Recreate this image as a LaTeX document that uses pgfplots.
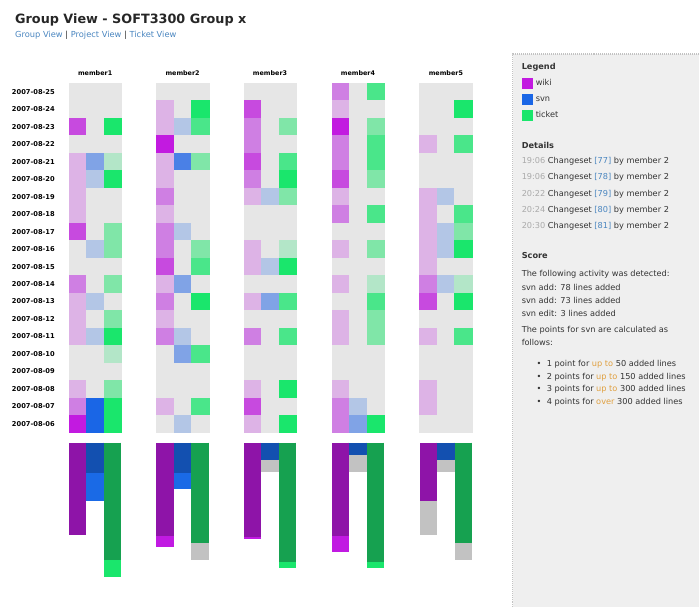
\documentclass[border=0pt]{standalone}
\usepackage{pgfplots}
\pgfplotsset{compat=1.18}
\usepackage{pgfplotstable}
\usepackage{fontspec}
\setmainfont{DejaVu Sans}

\definecolor{cg}{HTML}{E6E6E6}
\definecolor{cw1}{HTML}{DDB3E6}
\definecolor{cw2}{HTML}{CF7FE3}
\definecolor{cw3}{HTML}{C74ADF}
\definecolor{cw4}{HTML}{C21AE0}
\definecolor{cs1}{HTML}{B3C6E6}
\definecolor{cs2}{HTML}{80A3E6}
\definecolor{cs3}{HTML}{4A80E6}
\definecolor{cs4}{HTML}{1A66E6}
\definecolor{ct1}{HTML}{B3E6C8}
\definecolor{ct2}{HTML}{80E6A8}
\definecolor{ct3}{HTML}{4AE68A}
\definecolor{ct4}{HTML}{1AE66C}
\definecolor{bw}{HTML}{8E14A8}
\definecolor{bw2}{HTML}{C11AE2}
\definecolor{bs}{HTML}{1350B0}
\definecolor{bs2}{HTML}{1A6AE6}
\definecolor{bt}{HTML}{16A150}
\definecolor{bt2}{HTML}{1AE66C}
\definecolor{bgr}{HTML}{C2C2C2}
\definecolor{panel}{HTML}{EFEFEF}
\definecolor{txt}{HTML}{333333}
\definecolor{tgrey}{HTML}{AAAAAA}
\definecolor{lblue}{HTML}{4A86C0}
\definecolor{orng}{HTML}{E0A040}

% heatmap: day, wiki, svn, ticket
\pgfplotstableread{
d w s t
25 g g g
24 g g g
23 w3 g t4
22 g g g
21 w1 s2 t1
20 w1 s1 t4
19 w1 g g
18 w1 g g
17 w3 g t2
16 g s1 t2
15 g g g
14 w2 g t2
13 w1 s1 g
12 w1 g t2
11 w1 s1 t4
10 g g t1
9 g g g
8 w1 g t2
7 w2 s4 t4
6 w4 s4 t4
}\memA
\pgfplotstableread{
d w s t
25 g g g
24 w1 g t4
23 w1 s1 t3
22 w4 g g
21 w1 s3 t2
20 w1 g g
19 w2 g g
18 w1 g g
17 w2 s1 g
16 w2 g t2
15 w3 g t3
14 w1 s2 g
13 w2 g t4
12 w1 g g
11 w2 s1 g
10 g s2 t3
9 g g g
8 g g g
7 w1 g t3
6 g s1 g
}\memB
\pgfplotstableread{
d w s t
25 g g g
24 w3 g g
23 w2 g t2
22 w2 g g
21 w3 g t3
20 w2 g t4
19 w1 s1 t2
18 g g g
17 g g g
16 w1 g t1
15 w1 s1 t4
14 g g g
13 w1 s2 t3
12 g g g
11 w2 g t3
10 g g g
9 g g g
8 w1 g t4
7 w3 g g
6 w1 g t4
}\memC
\pgfplotstableread{
d w s t
25 w2 g t3
24 w1 g g
23 w4 g t2
22 w2 g t3
21 w2 g t3
20 w3 g t2
19 w1 g g
18 w2 g t3
17 g g g
16 w1 g t2
15 g g g
14 w1 g t1
13 g g t3
12 w1 g t2
11 w1 g t2
10 g g g
9 g g g
8 w1 g g
7 w2 s1 g
6 w2 s2 t4
}\memD
\pgfplotstableread{
d w s t
25 g g g
24 g g t4
23 g g g
22 w1 g t3
21 g g g
20 g g g
19 w1 s1 g
18 w1 g t3
17 w1 s1 t2
16 w1 s1 t4
15 w1 g g
14 w2 s1 t1
13 w3 g t4
12 g g g
11 w1 g t3
10 g g g
9 g g g
8 w1 g g
7 w1 g g
6 g g g
}\memE

\pgfplotsset{hm/.style={scatter, only marks, mark=square*, mark size=8.75pt,
  point meta=explicit symbolic, line width=0.3pt,
  scatter/classes={g={draw=cg,fill=cg},
   w1={draw=cw1,fill=cw1}, w2={draw=cw2,fill=cw2}, w3={draw=cw3,fill=cw3}, w4={draw=cw4,fill=cw4},
   s1={draw=cs1,fill=cs1}, s2={draw=cs2,fill=cs2}, s3={draw=cs3,fill=cs3}, s4={draw=cs4,fill=cs4},
   t1={draw=ct1,fill=ct1}, t2={draw=ct2,fill=ct2}, t3={draw=ct3,fill=ct3}, t4={draw=ct4,fill=ct4}}}}

\newcommand{\memcol}[3]{\addplot[hm] table[x expr=#1, y expr={91.75+17.5*(25-\thisrow{d})}, meta=#2]{#3};}
\newcommand{\datefont}{\bfseries\fontsize{6.7}{8}\selectfont}
\newcommand{\dlab}[2]{\node[anchor=base east, inner sep=0pt, font=\datefont, text=black] at (axis cs:55,{94.25+17.5*#2}) {2007-08-#1};}
\newcommand{\mlab}[2]{\node[anchor=base, inner sep=0pt, font=\bfseries\fontsize{6.4}{8}\selectfont, text=black] at (axis cs:#1,75.5) {#2};}
\newcommand{\ptxt}[2]{\node[anchor=base west, inner sep=0pt, font=\fontsize{8.2}{10}\selectfont, text=txt] at (axis cs:#1) {#2};}

\begin{document}
\begin{tikzpicture}
\begin{axis}[scale only axis, width=700pt, height=608pt,
  xmin=0, xmax=700, ymin=0, ymax=608, y dir=reverse,
  hide axis, clip=false, unbounded coords=jump]
\fill[white] (axis cs:0,0) rectangle (axis cs:700,608);
% right panel
\fill[panel] (axis cs:513,54) rectangle (axis cs:700,608);
\draw[color=bgr, line width=1.2pt, dash pattern=on 1pt off 1pt] (axis cs:700,54) -- (axis cs:513,54) -- (axis cs:513,608);

% heatmap
\memcol{77.75}{w}{\memA}
\memcol{95.25}{s}{\memA}
\memcol{112.75}{t}{\memA}
\memcol{165.25}{w}{\memB}
\memcol{182.75}{s}{\memB}
\memcol{200.25}{t}{\memB}
\memcol{252.75}{w}{\memC}
\memcol{270.25}{s}{\memC}
\memcol{287.75}{t}{\memC}
\memcol{340.75}{w}{\memD}
\memcol{358.25}{s}{\memD}
\memcol{375.75}{t}{\memD}
\memcol{428.75}{w}{\memE}
\memcol{446.25}{s}{\memE}
\memcol{463.75}{t}{\memE}

% totals bars (segments top to bottom)
\addplot[color=bw, line width=17.5pt] coordinates {(77.75,443) (77.75,535) (165.25,nan) (165.25,443) (165.25,536) (252.75,nan) (252.75,443) (252.75,537) (340.75,nan) (340.75,443) (340.75,536) (428.75,nan) (428.75,443) (428.75,501)};
\addplot[color=bw2, line width=17.5pt] coordinates {(165.25,536) (165.25,547) (252.75,nan) (252.75,537) (252.75,539) (340.75,nan) (340.75,536) (340.75,552)};
\addplot[color=bs, line width=17.5pt] coordinates {(95.25,443) (95.25,473) (182.75,nan) (182.75,443) (182.75,473) (270.25,nan) (270.25,443) (270.25,460) (358.25,nan) (358.25,443) (358.25,455) (446.25,nan) (446.25,443) (446.25,460)};
\addplot[color=bs2, line width=17.5pt] coordinates {(95.25,473) (95.25,501) (182.75,nan) (182.75,473) (182.75,489)};
\addplot[color=bt, line width=17.5pt] coordinates {(112.75,443) (112.75,560) (200.25,nan) (200.25,443) (200.25,543) (287.75,nan) (287.75,443) (287.75,562) (375.75,nan) (375.75,443) (375.75,562) (463.75,nan) (463.75,443) (463.75,543)};
\addplot[color=bt2, line width=17.5pt] coordinates {(112.75,560) (112.75,577) (287.75,nan) (287.75,562) (287.75,568) (375.75,nan) (375.75,562) (375.75,568)};
\addplot[color=bgr, line width=17.5pt] coordinates {(428.75,501) (428.75,535) (270.25,nan) (270.25,460) (270.25,472) (358.25,nan) (358.25,455) (358.25,472) (446.25,nan) (446.25,460) (446.25,472) (200.25,nan) (200.25,543) (200.25,560) (463.75,nan) (463.75,543) (463.75,560)};

% titles
\node[anchor=base west, inner sep=0pt, font=\bfseries\fontsize{12.8}{15}\selectfont, text=black!85] at (axis cs:15,24) {Group View - SOFT3300 Group x};
\node[anchor=base west, inner sep=0pt, font=\fontsize{8.3}{10}\selectfont, text=lblue] at (axis cs:15,37.5) {Group View {\color{txt}|} Project View {\color{txt}|} Ticket View};

% member headers
\mlab{95.25}{member1}
\mlab{182.75}{member2}
\mlab{270.25}{member3}
\mlab{358.25}{member4}
\mlab{446.25}{member5}

% date labels
\dlab{25}{0}\dlab{24}{1}\dlab{23}{2}\dlab{22}{3}\dlab{21}{4}
\dlab{20}{5}\dlab{19}{6}\dlab{18}{7}\dlab{17}{8}\dlab{16}{9}
\dlab{15}{10}\dlab{14}{11}\dlab{13}{12}\dlab{12}{13}\dlab{11}{14}
\dlab{10}{15}\dlab{09}{16}\dlab{08}{17}\dlab{07}{18}\dlab{06}{19}

% panel text
\ptxt{522,70}{\bfseries Legend}
\fill[cw4] (axis cs:522,78) rectangle (axis cs:533,89);
\fill[cs4] (axis cs:522,94) rectangle (axis cs:533,105);
\fill[ct4] (axis cs:522,110) rectangle (axis cs:533,121);
\ptxt{536,86}{wiki}
\ptxt{536,102}{svn}
\ptxt{536,118}{ticket}

\ptxt{522,149}{\bfseries Details}
\ptxt{522,164}{{\color{tgrey}19:06} Changeset {\color{lblue}[77]} by member 2}
\ptxt{522,180}{{\color{tgrey}19:06} Changeset {\color{lblue}[78]} by member 2}
\ptxt{522,197}{{\color{tgrey}20:22} Changeset {\color{lblue}[79]} by member 2}
\ptxt{522,213}{{\color{tgrey}20:24} Changeset {\color{lblue}[80]} by member 2}
\ptxt{522,229}{{\color{tgrey}20:30} Changeset {\color{lblue}[81]} by member 2}

\ptxt{522,259}{\bfseries Score}
\ptxt{522,277}{The following activity was detected:}
\ptxt{522,291}{svn add: 78 lines added}
\ptxt{522,304}{svn add: 73 lines added}
\ptxt{522,317}{svn edit: 3 lines added}
\ptxt{522,333}{The points for svn are calculated as}
\ptxt{522,346}{follows:}
\ptxt{537,367}{\textbullet\ \ 1 point for {\color{orng}up to} 50 added lines}
\ptxt{537,380}{\textbullet\ \ 2 points for {\color{orng}up to} 150 added lines}
\ptxt{537,392}{\textbullet\ \ 3 points for {\color{orng}up to} 300 added lines}
\ptxt{537,405}{\textbullet\ \ 4 points for {\color{orng}over} 300 added lines}
\end{axis}
\end{tikzpicture}
\end{document}
